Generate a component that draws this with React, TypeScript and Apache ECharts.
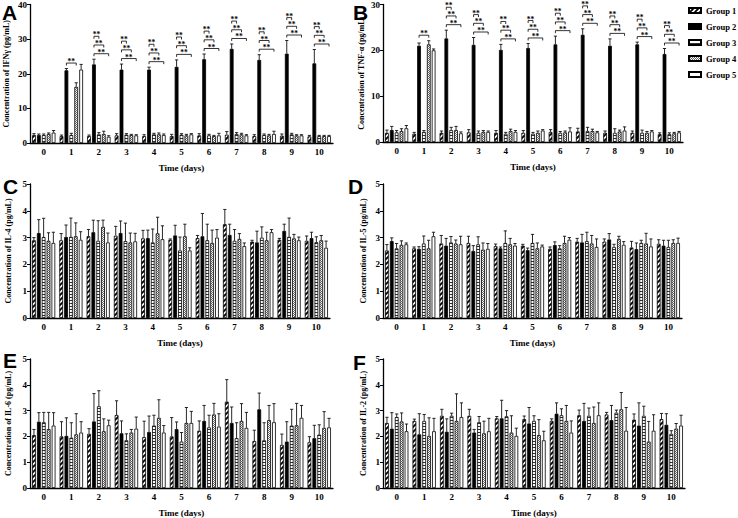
import React, { useEffect, useRef } from 'react';
import * as echarts from 'echarts';

const DAYS = ['0', '1', '2', '3', '4', '5', '6', '7', '8', '9', '10'];
const GROUPS = ['Group 1', 'Group 2', 'Group 3', 'Group 4', 'Group 5'];

// Panel A – IFNγ
const IFN_MEAN = [
  [2.3, 2.0, 2.0, 2.2, 2.0, 2.0, 2.2, 2.4, 2.0, 2.1, 1.9],
  [2.3, 21.0, 22.7, 21.2, 21.2, 22.0, 24.2, 27.2, 24.0, 25.8, 23.0],
  [2.3, 2.3, 2.5, 2.4, 2.5, 2.4, 2.2, 2.6, 2.3, 2.5, 2.0],
  [2.6, 16.2, 2.6, 2.3, 2.5, 2.2, 2.0, 2.5, 2.2, 2.2, 2.0],
  [3.0, 21.2, 1.8, 2.2, 2.3, 2.5, 2.2, 2.2, 2.6, 2.2, 2.0],
];
const IFN_ERR = [
  [0.4, 0.3, 0.3, 0.5, 0.4, 0.5, 0.5, 0.9, 0.4, 0.5, 0.3],
  [0.3, 0.5, 1.5, 1.6, 0.7, 2.0, 1.5, 1.4, 1.5, 3.8, 4.0],
  [0.3, 0.5, 0.5, 0.3, 0.3, 0.3, 0.3, 0.4, 0.3, 0.3, 0.2],
  [0.3, 1.2, 0.8, 0.2, 0.4, 0.3, 0.2, 0.3, 0.3, 0.2, 0.2],
  [0.6, 1.5, 0.3, 0.2, 0.3, 0.2, 0.6, 0.2, 0.8, 0.2, 0.2],
];

// Panel B – TNF-α
const TNF_MEAN = [
  [2.0, 1.8, 2.0, 2.1, 2.0, 2.0, 2.2, 2.3, 2.0, 2.0, 1.7],
  [2.6, 21.0, 22.6, 21.2, 20.1, 20.5, 21.3, 23.4, 21.0, 21.3, 19.2],
  [2.1, 2.2, 2.6, 2.0, 1.8, 1.8, 2.0, 2.4, 2.0, 2.0, 1.7],
  [2.4, 21.3, 2.6, 2.2, 2.4, 2.0, 2.1, 2.4, 2.3, 2.0, 1.9],
  [3.0, 20.0, 1.9, 2.2, 2.2, 2.5, 2.3, 2.1, 2.5, 2.3, 2.1],
];
const TNF_ERR = [
  [0.6, 0.3, 0.4, 0.6, 0.5, 0.5, 0.5, 0.7, 0.4, 0.4, 0.3],
  [0.8, 0.6, 1.8, 1.6, 1.2, 1.0, 1.8, 1.3, 1.5, 0.5, 1.2],
  [0.4, 0.3, 0.6, 0.4, 0.3, 0.3, 0.3, 0.8, 0.9, 0.6, 0.3],
  [0.5, 0.8, 0.8, 0.3, 0.4, 0.4, 0.3, 0.4, 0.3, 0.3, 0.2],
  [0.6, 0.3, 0.3, 0.2, 0.3, 0.2, 0.8, 0.2, 0.8, 0.2, 0.2],
];

// Panel C – IL-4
const IL4_MEAN = [
  [2.9, 2.9, 3.05, 3.07, 2.97, 2.92, 2.98, 3.5, 2.85, 2.92, 2.88],
  [3.17, 3.02, 3.2, 3.17, 2.98, 3.08, 3.05, 3.1, 2.82, 3.25, 2.98],
  [3.02, 3.03, 2.88, 2.87, 2.82, 2.52, 2.9, 2.88, 3.0, 3.03, 2.83],
  [2.88, 3.05, 3.4, 2.82, 3.16, 3.05, 2.8, 2.95, 2.9, 2.97, 2.9],
  [2.8, 2.92, 2.82, 2.86, 2.94, 2.52, 3.0, 2.68, 3.2, 2.9, 2.62],
];
const IL4_ERR = [
  [0.1, 0.25, 0.25, 0.35, 0.3, 0.03, 0.1, 0.55, 0.05, 0.05, 0.18],
  [0.5, 0.45, 0.45, 0.45, 0.3, 0.38, 0.85, 0.4, 0.42, 0.25, 0.22],
  [0.7, 0.7, 0.75, 0.67, 0.5, 0.5, 0.6, 0.42, 0.4, 0.7, 0.2],
  [0.3, 0.5, 0.25, 0.35, 0.6, 0.45, 0.48, 0.2, 0.3, 0.15, 0.18],
  [0.4, 0.3, 0.35, 0.3, 0.5, 0.1, 0.3, 0.12, 0.1, 0.12, 0.25],
];

// Panel D – IL-5
const IL5_MEAN = [
  [2.52, 2.6, 2.78, 2.8, 2.68, 2.7, 2.58, 2.85, 2.85, 2.63, 2.77],
  [2.87, 2.58, 2.7, 2.5, 2.6, 2.53, 2.72, 2.82, 2.93, 2.57, 2.7],
  [2.6, 2.78, 2.82, 2.75, 2.8, 2.8, 2.6, 2.87, 2.65, 2.8, 2.65],
  [2.73, 2.6, 2.78, 2.55, 2.75, 2.6, 2.8, 2.78, 2.95, 2.78, 2.8],
  [2.75, 3.05, 2.75, 2.58, 2.7, 2.67, 2.92, 2.65, 2.73, 2.67, 2.8],
];
const IL5_ERR = [
  [0.22, 0.05, 0.3, 0.25, 0.08, 0.05, 0.07, 0.12, 0.1, 0.23, 0.15],
  [0.12, 0.08, 0.27, 0.2, 0.05, 0.08, 0.12, 0.3, 0.22, 0.23, 0.2],
  [0.18, 0.28, 0.22, 0.28, 0.45, 0.32, 0.1, 0.33, 0.1, 0.1, 0.25],
  [0.15, 0.3, 0.13, 0.25, 0.22, 0.2, 0.25, 0.3, 0.1, 0.38, 0.12],
  [0.05, 0.15, 0.3, 0.2, 0.08, 0.05, 0.08, 0.3, 0.12, 0.28, 0.18],
];

// Panel E – IL-6
const IL6_MEAN = [
  [2.05, 2.0, 2.1, 2.83, 1.97, 2.0, 2.22, 3.35, 1.82, 1.67, 1.77],
  [2.57, 2.02, 2.58, 2.12, 2.17, 2.28, 2.6, 2.52, 3.05, 1.8, 1.93],
  [2.55, 1.95, 3.17, 1.85, 2.42, 1.8, 2.35, 1.93, 1.85, 2.42, 2.07],
  [2.28, 2.08, 2.2, 2.15, 2.72, 2.52, 2.85, 2.6, 2.63, 2.43, 2.33],
  [2.42, 2.15, 2.43, 2.3, 2.15, 2.52, 2.38, 2.33, 2.55, 2.72, 2.35],
];
const IL6_ERR = [
  [0.22, 0.57, 0.2, 0.55, 0.62, 0.73, 0.38, 0.85, 0.42, 0.42, 0.22],
  [0.35, 0.7, 1.08, 0.48, 0.62, 0.28, 0.6, 0.62, 0.63, 0.77, 0.5],
  [0.38, 0.58, 0.6, 0.25, 0.4, 0.35, 0.47, 0.6, 0.68, 0.63, 0.38],
  [0.65, 0.8, 0.48, 0.12, 0.7, 0.6, 0.43, 0.67, 0.57, 0.85, 0.63],
  [0.5, 0.42, 0.2, 0.45, 0.27, 0.45, 0.5, 0.6, 0.72, 0.48, 0.35],
];

// Panel F – IL-2
const IL2_MEAN = [
  [2.52, 2.6, 2.8, 2.8, 2.7, 2.67, 2.6, 2.82, 2.85, 2.65, 2.67],
  [2.3, 2.08, 2.18, 2.15, 2.7, 2.5, 2.88, 2.6, 2.63, 2.42, 2.45],
  [2.75, 2.6, 2.8, 2.55, 2.78, 2.6, 2.82, 2.8, 2.92, 2.8, 2.1],
  [2.58, 2.02, 2.6, 2.12, 2.15, 2.05, 2.6, 2.52, 3.05, 1.8, 2.3],
  [2.2, 2.2, 2.75, 2.2, 2.02, 1.85, 2.15, 2.82, 2.22, 2.22, 2.42],
];
const IL2_ERR = [
  [0.22, 0.07, 0.25, 0.25, 0.07, 0.12, 0.08, 0.2, 0.08, 0.22, 0.22],
  [0.62, 0.8, 0.5, 0.12, 0.7, 0.62, 0.42, 0.68, 0.57, 0.88, 0.43],
  [0.12, 0.25, 0.1, 0.22, 0.22, 0.2, 0.25, 0.3, 0.1, 0.37, 0.12],
  [0.33, 0.7, 1.05, 0.47, 0.65, 0.6, 0.6, 0.62, 0.65, 0.78, 0.2],
  [0.28, 0.5, 0.55, 0.5, 0.3, 0.35, 0.45, 0.48, 0.9, 0.62, 0.4],
];

// Significance comparisons per day: [groupFrom, groupTo] (0-based group index), lowest first
const SIG_PAIRS: number[][][] = [
  [],
  [[1, 3]],
  [[1, 4], [1, 3], [1, 2]],
  [[1, 4], [1, 3], [1, 2]],
  [[1, 4], [1, 3], [1, 2]],
  [[1, 4], [1, 3], [1, 2]],
  [[1, 4], [1, 3], [1, 2]],
  [[1, 4], [1, 3], [1, 2]],
  [[1, 4], [1, 3], [1, 2]],
  [[1, 4], [1, 3], [1, 2]],
  [[1, 4], [1, 3], [1, 2]],
];
const SIG_LABEL = '**';

const Y_MAX = [40, 30, 5, 5, 5, 5];
const Y_INTERVAL = [10, 10, 1, 1, 1, 1];
const Y_TITLES = [
  'Concentration of IFNγ (pg/mL)',
  'Concentration of TNF-α (pg/mL)',
  'Concentration of IL-4 (pg/mL)',
  'Concentration of IL-5 (pg/mL)',
  'Concentration of IL-6 (pg/mL)',
  'Concentration of IL-2 (pg/mL)',
];
const X_TITLE = 'Time (days)';
const LETTERS = ['A', 'B', 'C', 'D', 'E', 'F'];
const MEANS = [IFN_MEAN, TNF_MEAN, IL4_MEAN, IL5_MEAN, IL6_MEAN, IL2_MEAN];
const ERRS = [IFN_ERR, TNF_ERR, IL4_ERR, IL5_ERR, IL6_ERR, IL2_ERR];
const HAS_SIG = [true, true, false, false, false, false];

// layout (styles, separate from data)
const GRIDS = [
  { left: 30, top: 4, width: 303, height: 139 },
  { left: 383, top: 4, width: 300, height: 138 },
  { left: 30, top: 184, width: 300, height: 134 },
  { left: 383, top: 184, width: 299, height: 134 },
  { left: 30, top: 359, width: 303, height: 133 },
  { left: 383, top: 359, width: 302, height: 133 },
];
const NAME_GAPS = [20, 18, 18, 16, 18, 16];
const LETTER_POS = [
  [2, 2], [353, 2], [3, 176], [348, 176], [3, 350], [353, 352],
];

const SERIF = '"Liberation Serif", "Times New Roman", serif';
const CAT_GAP = 0.15;
const BAR_GAP = 0.3;

function barOffsets(band: number) {
  const remained = band * (1 - CAT_GAP);
  const w = remained / (5 + 4 * BAR_GAP);
  const total = 5 * w + 4 * w * BAR_GAP;
  const out: number[] = [];
  for (let i = 0; i < 5; i++) out.push(-total / 2 + w / 2 + i * w * (1 + BAR_GAP));
  return out;
}

function makeTile(kind: string) {
  const c = document.createElement('canvas');
  let w = 5, h = 5;
  if (kind === 'hline') { w = 3; h = 3; }
  if (kind === 'dots') { w = 2; h = 2; }
  c.width = w; c.height = h;
  const ctx = c.getContext('2d')!;
  ctx.fillStyle = '#fff';
  ctx.fillRect(0, 0, w, h);
  if (kind === 'diag') {
    ctx.strokeStyle = '#000';
    ctx.lineWidth = 1.8;
    ctx.beginPath();
    ctx.moveTo(-1, 6); ctx.lineTo(6, -1);
    ctx.moveTo(-1, 1); ctx.lineTo(1, -1);
    ctx.moveTo(4, 6); ctx.lineTo(6, 4);
    ctx.stroke();
  } else if (kind === 'hline') {
    ctx.fillStyle = '#333';
    ctx.fillRect(0, 0, w, 1);
  } else if (kind === 'dots') {
    ctx.fillStyle = '#666';
    ctx.fillRect(0, 0, 1, 1);
    ctx.fillRect(1, 1, 1, 1);
  }
  return { image: c.toDataURL(), repeat: 'repeat', imageWidth: w, imageHeight: h };
}

function buildOption() {
  const fills: any[] = [makeTile('diag'), '#000', makeTile('hline'), makeTile('dots'), '#fff'];
  const grid: any[] = [];
  const xAxis: any[] = [];
  const yAxis: any[] = [];
  const series: any[] = [];
  const graphic: any[] = [];

  for (let p = 0; p < 6; p++) {
    grid.push({ ...GRIDS[p], containLabel: false });
    xAxis.push({
      type: 'category', gridIndex: p, data: DAYS,
      name: X_TITLE, nameLocation: 'middle', nameGap: 20,
      nameTextStyle: { fontFamily: SERIF, fontWeight: 'bold', fontSize: 9, color: '#000' },
      axisLine: { lineStyle: { color: '#000', width: 1.3 } },
      axisTick: { alignWithLabel: true, length: 3, lineStyle: { color: '#000', width: 1 } },
      axisLabel: { fontFamily: SERIF, fontWeight: 'bold', fontSize: 9, color: '#000', margin: 4 },
    });
    yAxis.push({
      type: 'value', gridIndex: p, min: 0, max: Y_MAX[p], interval: Y_INTERVAL[p],
      name: Y_TITLES[p], nameLocation: 'middle', nameGap: NAME_GAPS[p],
      nameTextStyle: { fontFamily: SERIF, fontWeight: 'bold', fontSize: 8, color: '#000' },
      axisLine: { show: true, lineStyle: { color: '#000', width: 1.3 } },
      axisTick: { show: true, length: 3, lineStyle: { color: '#000', width: 1 } },
      axisLabel: { fontFamily: SERIF, fontWeight: 'bold', fontSize: 9, color: '#000', margin: 3 },
      splitLine: { show: false },
    });

    const mean = MEANS[p];
    const err = ERRS[p];
    for (let g = 0; g < 5; g++) {
      series.push({
        type: 'bar', name: GROUPS[g], xAxisIndex: p, yAxisIndex: p,
        data: mean[g],
        barCategoryGap: `${CAT_GAP * 100}%`, barGap: `${BAR_GAP * 100}%`,
        itemStyle: { color: fills[g], borderColor: '#000', borderWidth: 0.8 },
        emphasis: { disabled: true },
      });
    }

    // error bars
    const errData: number[][] = [];
    for (let g = 0; g < 5; g++) {
      for (let d = 0; d < DAYS.length; d++) errData.push([d, g, mean[g][d], err[g][d]]);
    }
    series.push({
      type: 'custom', xAxisIndex: p, yAxisIndex: p, z: 5, silent: true,
      encode: { x: 0, y: 2 },
      data: errData,
      renderItem: (params: any, api: any) => {
        const d = api.value(0), g = api.value(1), m = api.value(2), e = api.value(3);
        const band = api.size([1, 0])[0];
        const offs = barOffsets(band);
        const p0 = api.coord([d, m]);
        const p1 = api.coord([d, m + e]);
        const x = p0[0] + offs[g];
        return {
          type: 'group',
          children: [
            { type: 'line', shape: { x1: x, y1: p0[1], x2: x, y2: p1[1] }, style: { stroke: '#111', lineWidth: 0.9 } },
            { type: 'line', shape: { x1: x - 1.6, y1: p1[1], x2: x + 1.6, y2: p1[1] }, style: { stroke: '#111', lineWidth: 0.9 } },
          ],
        };
      },
    });

    if (HAS_SIG[p]) {
      const sigData: number[][] = [];
      for (let d = 0; d < SIG_PAIRS.length; d++) {
        const pairs = SIG_PAIRS[d];
        let baseFrom = 5, baseTo = -1;
        pairs.forEach((pr) => { baseFrom = Math.min(baseFrom, pr[0]); baseTo = Math.max(baseTo, pr[1]); });
        let maxTop = 0;
        for (let g = baseFrom; g <= baseTo; g++) maxTop = Math.max(maxTop, mean[g][d] + err[g][d]);
        pairs.forEach((pr, k) => {
          sigData.push([d, maxTop, pr[0], pr[1], k]);
        });
      }
      series.push({
        type: 'custom', xAxisIndex: p, yAxisIndex: p, z: 6, silent: true,
        encode: { x: 0, y: 1 },
        data: sigData,
        renderItem: (params: any, api: any) => {
          const d = api.value(0), top = api.value(1), from = api.value(2), to = api.value(3), level = api.value(4);
          const band = api.size([1, 0])[0];
          const offs = barOffsets(band);
          const c = api.coord([d, top]);
          const y = c[1] - 5.5 - level * 8.7;
          const x1 = c[0] + offs[from];
          const x2 = c[0] + offs[to];
          return {
            type: 'group',
            children: [
              {
                type: 'polyline',
                shape: { points: [[x1, y + 2.5], [x1, y], [x2, y], [x2, y + 2.5]] },
                style: { stroke: '#000', lineWidth: 0.8, fill: 'none' },
              },
              {
                type: 'text',
                style: {
                  text: SIG_LABEL, x: (x1 + x2) / 2, y: y + 2.5,
                  align: 'center', verticalAlign: 'bottom',
                  fontFamily: SERIF, fontWeight: 'bold', fontSize: 7.5, fill: '#000',
                },
              },
            ],
          };
        },
      });
    }

    graphic.push({
      type: 'text', left: LETTER_POS[p][0], top: LETTER_POS[p][1],
      style: { text: LETTERS[p], fontFamily: '"Liberation Sans", Arial, sans-serif', fontWeight: 'bold', fontSize: 21, fill: '#000' },
    });
  }

  return {
    animation: false,
    backgroundColor: '#fff',
    grid, xAxis, yAxis, series, graphic,
    legend: {
      data: GROUPS, orient: 'vertical', left: 688, top: 6, padding: 0,
      icon: 'rect', itemWidth: 12, itemHeight: 5, itemGap: 7,
      selectedMode: false,
      textStyle: { fontFamily: SERIF, fontWeight: 'bold', fontSize: 8.5, color: '#000', overflow: 'none' },
    },
  };
}

export default function App() {
  const ref = useRef<HTMLDivElement>(null);
  useEffect(() => {
    if (!ref.current) return;
    const chart = echarts.init(ref.current, null, { renderer: 'svg' });
    chart.setOption(buildOption() as any);
    return () => chart.dispose();
  }, []);
  return (
    <div
      ref={ref}
      style={{ position: 'absolute', left: 0, top: 0, width: 738, height: 518, background: '#fff' }}
    />
  );
}
